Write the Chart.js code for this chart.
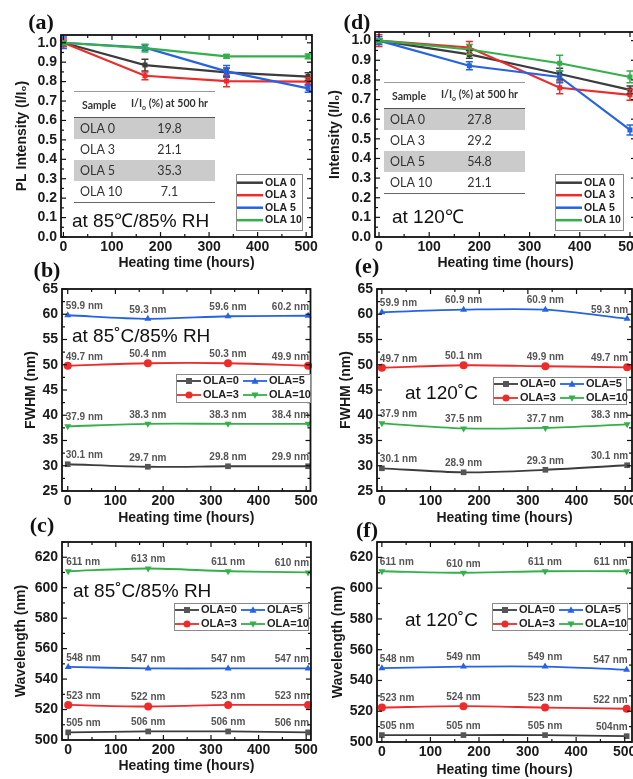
<!DOCTYPE html>
<html>
<head>
<meta charset="utf-8">
<title>OLA stability</title>
<script src="https://cdn.jsdelivr.net/npm/chart.js@4.4.1/dist/chart.umd.min.js"></script>
<style>
  html, body { margin: 0; padding: 0; background: #fff; }
  #page { position: relative; width: 633px; height: 779px; overflow: hidden; background: #fff; }
  canvas { position: absolute; }
  .tag { position: absolute; font: bold 22px "Liberation Serif", serif; color: #111; transform: translate(-50%, -50%); line-height: 1; }
  .note { position: absolute; font: 19px "Liberation Sans", Arial, sans-serif; color: #111; transform: translateY(-50%); line-height: 1; white-space: nowrap; }
  .tbl { position: absolute; width: 141px; font-family: Lato, "Liberation Sans", sans-serif; color: #333; border-top: 1px solid #999; border-bottom: 1.5px solid #666; }
  .tbl .row { display: flex; height: 21px; align-items: center; font-size: 12.5px; }
  .tbl .head { height: 25px; font-size: 10.5px; font-weight: bold; border-bottom: 1.5px solid #555; }
  .tbl .grey { background: #cbcbcb; }
  .tbl .c1 { width: 50px; padding-left: 6px; box-sizing: border-box; }
  .tbl .c2 { width: 91px; text-align: center; }
  .tbl .head .c1 { padding-left: 0; text-align: center; }
</style>
</head>
<body>
<div id="page">
  <canvas id="chartA" width="320" height="275" style="left:0;top:0"></canvas>
  <canvas id="chartD" width="330" height="275" style="left:316px;top:0"></canvas>
  <canvas id="chartB" width="320" height="280" style="left:0;top:255px"></canvas>
  <canvas id="chartE" width="330" height="280" style="left:316px;top:255px"></canvas>
  <canvas id="chartC" width="320" height="274" style="left:0;top:505px"></canvas>
  <canvas id="chartF" width="330" height="274" style="left:316px;top:505px"></canvas>

  <div class="tag" style="left:41px;top:22px">(a)</div>
  <div class="tag" style="left:357px;top:22px">(d)</div>
  <div class="tag" style="left:47px;top:270px">(b)</div>
  <div class="tag" style="left:367px;top:266px">(e)</div>
  <div class="tag" style="left:42px;top:525px">(c)</div>
  <div class="tag" style="left:367px;top:530px">(f)</div>

  <div class="note" style="left:72px;top:220px">at 85℃/85% RH</div>
  <div class="note" style="left:72px;top:335px">at 85˚C/85% RH</div>
  <div class="note" style="left:73px;top:590px">at 85˚C/85% RH</div>
  <div class="note" style="left:392px;top:216px">at 120℃</div>
  <div class="note" style="left:405px;top:392px">at 120˚C</div>
  <div class="note" style="left:405px;top:619px">at 120˚C</div>

  <div class="tbl" id="tableA" style="left:74px;top:91px"></div>
  <div class="tbl" id="tableD" style="left:384px;top:82px"></div>
</div>

<script>
// 时间点 (hours)
const hours = [0, 168, 336, 504];
const hoursHot = [0, 180, 360, 500];
const olaNames = ['OLA 0', 'OLA 3', 'OLA 5', 'OLA 10'];
const olaKeys = ['OLA=0', 'OLA=3', 'OLA=5', 'OLA=10'];
const olaColors = ['#3c3c3c', '#ee2b2b', '#2563e6', '#34b04a'];

// (a) PL intensity at 85°C/85% RH
const plHumid0 = [1.0, 0.885, 0.848, 0.826];
const plHumid3 = [1.0, 0.83, 0.803, 0.80];
const plHumid5 = [1.0, 0.975, 0.853, 0.765];
const plHumid10 = [1.0, 0.972, 0.93, 0.93];
const errHumid0 = [0.01, 0.03, 0.022, 0.02];
const errHumid3 = [0.02, 0.02, 0.03, 0.02];
const errHumid5 = [0.03, 0.015, 0.03, 0.02];
const errHumid10 = [0.01, 0.02, 0.01, 0.012];

// (d) PL intensity at 120°C
const plHot0 = [1.0, 0.93, 0.83, 0.749];
const plHot3 = [1.0, 0.965, 0.76, 0.724];
const plHot5 = [1.0, 0.872, 0.815, 0.545];
const plHot10 = [1.0, 0.955, 0.885, 0.815];
const errHot0 = [0.01, 0.02, 0.03, 0.02];
const errHot3 = [0.03, 0.03, 0.03, 0.027];
const errHot5 = [0.02, 0.02, 0.03, 0.025];
const errHot10 = [0.01, 0.025, 0.04, 0.03];

// 表格
const tableSamples = ['OLA 0', 'OLA 3', 'OLA 5', 'OLA 10'];
const retainHumid = ['19.8', '21.1', '35.3', '7.1'];
const retainHot = ['27.8', '29.2', '54.8', '21.1'];

// (b) FWHM at 85°C/85% RH
const fwHumid0 = [30.3, 29.8, 29.9, 29.9];
const fwHumid3 = [49.8, 50.3, 50.3, 49.8];
const fwHumid5 = [59.8, 59.1, 59.6, 59.7];
const fwHumid10 = [37.8, 38.3, 38.3, 38.3];
const fwHumidTags0 = ['30.1', '29.7', '29.8', '29.9'];
const fwHumidTags3 = ['49.7', '50.4', '50.3', '49.9'];
const fwHumidTags5 = ['59.9', '59.3', '59.6', '60.2'];
const fwHumidTags10 = ['37.9', '38.3', '38.3', '38.4'];

// (e) FWHM at 120°C
const fwHot0 = [29.5, 28.7, 29.2, 30.1];
const fwHot3 = [49.4, 49.9, 49.7, 49.5];
const fwHot5 = [60.4, 60.9, 60.9, 59.1];
const fwHot10 = [38.4, 37.4, 37.5, 38.2];
const fwHotTags0 = ['30.1', '28.9', '29.3', '30.1'];
const fwHotTags3 = ['49.7', '50.1', '49.9', '49.7'];
const fwHotTags5 = ['59.9', '60.9', '60.9', '59.3'];
const fwHotTags10 = ['37.9', '37.5', '37.7', '38.3'];

// (c) Wavelength at 85°C/85% RH
const wlHumid0 = [505, 505.6, 505.6, 505];
const wlHumid3 = [523, 522, 523, 523];
const wlHumid5 = [548, 547, 547, 547];
const wlHumid10 = [610.8, 612.6, 610.8, 610];
const wlHumidTags0 = ['505', '506', '506', '506'];
const wlHumidTags3 = ['523', '522', '523', '523'];
const wlHumidTags5 = ['548', '547', '547', '547'];
const wlHumidTags10 = ['611', '613', '611', '610'];

// (f) Wavelength at 120°C
const wlHot0 = [504.5, 504.5, 504.5, 503.8];
const wlHot3 = [522.4, 523.3, 522.4, 521.6];
const wlHot5 = [548, 549, 549, 547];
const wlHot10 = [611, 610, 611, 611];
const wlHotTags0 = ['505', '505', '505', '504nm'];
const wlHotTags3 = ['523', '524', '523', '522'];
const wlHotTags5 = ['548', '549', '549', '547'];
const wlHotTags10 = ['611', '610', '611', '611'];

const markStyles = ['rect', 'circle', 'triangle', 'triangle'];
const markTurns = [0, 0, 0, 180];

const tickFont = { family: '"Liberation Sans", Arial, sans-serif', size: 14, weight: 'bold' };
const titleFont = { family: '"Liberation Sans", Arial, sans-serif', size: 14, weight: 'bold' };
const inkColor = '#1a1a1a';

// 表格
function fillTable(id, values) {
  const rows = ['<div class="row head"><div class="c1">Sample</div><div class="c2">I/I<sub style="font-size:7px">o</sub> (%) at 500 hr</div></div>'];
  tableSamples.forEach((s, i) => {
    rows.push(`<div class="row ${i % 2 === 0 ? 'grey' : ''}"><div class="c1">${s}</div><div class="c2">${values[i]}</div></div>`);
  });
  document.getElementById(id).innerHTML = rows.join('');
}
fillTable('tableA', retainHumid);
fillTable('tableD', retainHot);

function drawMark(ctx, style, x, y, r, turn) {
  ctx.beginPath();
  if (style === 'rect') {
    ctx.rect(x - r * 0.85, y - r * 0.85, r * 1.7, r * 1.7);
  } else if (style === 'circle') {
    ctx.arc(x, y, r, 0, Math.PI * 2);
  } else {
    const s = turn ? -1 : 1;
    ctx.moveTo(x, y - s * r * 1.05);
    ctx.lineTo(x + r, y + s * r * 0.75);
    ctx.lineTo(x - r, y + s * r * 0.75);
    ctx.closePath();
  }
  ctx.fill();
}

// 误差棒
const errorBars = {
  id: 'errorBars',
  afterDatasetsDraw(chart) {
    const { ctx } = chart;
    const yScale = chart.scales.y;
    chart.data.datasets.forEach((ds, i) => {
      if (!ds.errors) return;
      ctx.save();
      ctx.strokeStyle = ds.borderColor;
      ctx.lineWidth = 1.5;
      chart.getDatasetMeta(i).data.forEach((pt, j) => {
        const v = ds.data[j].y, e = ds.errors[j];
        const y1 = yScale.getPixelForValue(v - e);
        const y2 = yScale.getPixelForValue(v + e);
        ctx.beginPath();
        ctx.moveTo(pt.x, y1); ctx.lineTo(pt.x, y2);
        ctx.moveTo(pt.x - 3.5, y1); ctx.lineTo(pt.x + 3.5, y1);
        ctx.moveTo(pt.x - 3.5, y2); ctx.lineTo(pt.x + 3.5, y2);
        ctx.stroke();
      });
      ctx.restore();
    });
  }
};

// 数据标注 "xx nm"
const pointText = {
  id: 'pointText',
  afterDatasetsDraw(chart) {
    const { ctx } = chart;
    chart.data.datasets.forEach((ds, i) => {
      if (!ds.tags) return;
      const pts = chart.getDatasetMeta(i).data;
      const last = pts.length - 1;
      ctx.save();
      ctx.font = 'bold 10px "Liberation Sans", Arial, sans-serif';
      ctx.fillStyle = '#555';
      ctx.textBaseline = 'middle';
      pts.forEach((p, j) => {
        ctx.textAlign = j === 0 ? 'left' : (j === last ? 'right' : 'center');
        const x = j === 0 ? p.x - 2 : (j === last ? p.x + 1 : p.x);
        ctx.fillText(ds.tags[j], x, p.y - 9);
      });
      ctx.restore();
    });
  }
};

// 边框和刻度（朝内）
const frame = {
  id: 'frame',
  afterDatasetsDraw(chart) {
    const { ctx, chartArea: a, scales: { x, y } } = chart;
    ctx.save();
    ctx.strokeStyle = '#111';
    ctx.lineWidth = 1.8;
    ctx.strokeRect(a.left, a.top, a.right - a.left, a.bottom - a.top);
    ctx.lineWidth = 1.2;
    const line = (x1, y1, x2, y2) => { ctx.beginPath(); ctx.moveTo(x1, y1); ctx.lineTo(x2, y2); ctx.stroke(); };
    const walk = (scale, fn) => {
      const vals = scale.ticks.map(t => t.value);
      const step = vals[1] - vals[0];
      for (let k = -1; k <= vals.length * 2; k++) {
        const v = vals[0] + k * step / 2;
        if (v < scale.min - 1e-9 || v > scale.max + 1e-9) continue;
        fn(scale.getPixelForValue(v), k % 2 === 0 ? 5 : 3);
      }
    };
    walk(x, (p, len) => { line(p, a.bottom, p, a.bottom - len); line(p, a.top, p, a.top + len); });
    walk(y, (p, len) => { line(a.left, p, a.left + len, p); line(a.right, p, a.right - len, p); });
    ctx.restore();
  }
};

// 图例（画在图内）
const boxLegend = {
  id: 'boxLegend',
  afterDraw(chart, args, opts) {
    if (!opts || !opts.box) return;
    const { ctx } = chart;
    const [bx, by, bw, bh] = opts.box;
    ctx.save();
    ctx.fillStyle = '#fff';
    ctx.fillRect(bx, by, bw, bh);
    ctx.strokeStyle = '#8a8a8a';
    ctx.lineWidth = 1;
    ctx.strokeRect(bx + 0.5, by + 0.5, bw, bh);
    ctx.font = `bold ${opts.fontSize}px "Liberation Sans", Arial, sans-serif`;
    ctx.textBaseline = 'middle';
    chart.data.datasets.forEach((ds, i) => {
      const col = Math.floor(i / opts.rows), row = i % opts.rows;
      const x0 = bx + opts.pad + col * opts.colW;
      const y0 = by + opts.first + row * opts.rowH;
      ctx.strokeStyle = ds.borderColor;
      ctx.lineWidth = opts.lineW;
      ctx.beginPath(); ctx.moveTo(x0, y0); ctx.lineTo(x0 + opts.lineLen, y0); ctx.stroke();
      if (opts.markers) {
        ctx.fillStyle = ds.pointBackgroundColor;
        drawMark(ctx, ds.pointStyle, x0 + opts.lineLen / 2, y0, 3.5, ds.pointRotation);
      }
      ctx.fillStyle = '#222';
      ctx.textAlign = 'left';
      ctx.fillText(ds.label, x0 + opts.lineLen + 2, y0);
    });
    ctx.restore();
  }
};

function trendSets(xs, series, errs) {
  return series.map((vals, i) => ({
    label: olaNames[i],
    data: vals.map((v, j) => ({ x: xs[j], y: v })),
    errors: errs[i],
    borderColor: olaColors[i],
    backgroundColor: olaColors[i],
    pointBackgroundColor: olaColors[i],
    borderWidth: 2.2,
    pointStyle: 'rect',
    pointRadius: 2,
    tension: 0,
    order: 4 - i,
    clip: false
  }));
}

function spotSets(series, tags) {
  return series.map((vals, i) => ({
    label: olaKeys[i],
    data: vals.map((v, j) => ({ x: hours[j], y: v })),
    tags: tags[i].map(t => t.endsWith('nm') ? t : t + ' nm'),
    borderColor: olaColors[i],
    backgroundColor: olaColors[i],
    pointBackgroundColor: i === 0 ? '#555' : olaColors[i],
    pointBorderColor: i === 0 ? '#555' : olaColors[i],
    borderWidth: 1.8,
    pointStyle: markStyles[i],
    pointRotation: markTurns[i],
    pointRadius: 4,
    pointBorderWidth: 0,
    tension: 0.3,
    order: 4 - i,
    clip: false
  }));
}

function panel(id, cfg) {
  return new Chart(document.getElementById(id), {
    type: 'line',
    data: { datasets: cfg.sets },
    options: {
      responsive: false,
      animation: false,
      layout: { padding: cfg.pad },
      plugins: {
        legend: { display: false },
        tooltip: { enabled: false },
        boxLegend: cfg.legend
      },
      scales: {
        x: {
          type: 'linear',
          min: cfg.xMin,
          max: cfg.xMax,
          grid: { display: false, drawTicks: false },
          border: { display: false },
          ticks: { stepSize: 100, includeBounds: false, autoSkip: false, maxRotation: 0, padding: cfg.xTickPad, color: inkColor, font: tickFont },
          title: { display: true, text: 'Heating time (hours)', color: inkColor, font: titleFont, padding: { top: 0, bottom: 0 } },
          afterFit: s => { s.height = cfg.xHeight; }
        },
        y: {
          min: cfg.yMin,
          max: cfg.yMax,
          grid: { display: false, drawTicks: false },
          border: { display: false },
          ticks: { stepSize: cfg.yStep, includeBounds: false, padding: 4, color: inkColor, font: tickFont, callback: cfg.yFmt },
          title: { display: true, text: cfg.yTitle, color: inkColor, font: titleFont, padding: { top: cfg.yTitlePad, bottom: 0 } },
          afterFit: s => { s.width = cfg.yWidth; }
        }
      }
    },
    plugins: [errorBars, pointText, frame, boxLegend]
  });
}

const oneDecimal = v => v.toFixed(1);
const whole = v => String(v);
const trendLegend = box => ({ box, rows: 4, colW: 0, pad: 1, first: 8.7, rowH: 12.5, lineLen: 26, lineW: 2.5, fontSize: 10.5, markers: false });
const spotLegend = box => ({ box, rows: 2, colW: 66, pad: 1, first: 7, rowH: 14, lineLen: 24, lineW: 1.8, fontSize: 11, markers: true });

panel('chartA', {
  sets: trendSets(hours, [plHumid0, plHumid3, plHumid5, plHumid10], [errHumid0, errHumid3, errHumid5, errHumid10]),
  pad: { left: 0, top: 35, right: 7, bottom: 3 },
  xMin: -5, xMax: 512, xHeight: 35, xTickPad: 2,
  yMin: 0, yMax: 1.04, yStep: 0.1, yFmt: oneDecimal,
  yTitle: 'PL Intensity (I/I₀)', yTitlePad: 14, yWidth: 61,
  legend: trendLegend([236, 174, 66, 56])
});

panel('chartD', {
  sets: trendSets(hoursHot, [plHot0, plHot3, plHot5, plHot10], [errHot0, errHot3, errHot5, errHot10]),
  pad: { left: 0, top: 32, right: 10, bottom: 3 },
  xMin: -8, xMax: 512, xHeight: 35, xTickPad: 2,
  yMin: 0, yMax: 1.044, yStep: 0.1, yFmt: oneDecimal,
  yTitle: 'Intensity (I/I₀)', yTitlePad: 11, yWidth: 59,
  legend: trendLegend([239, 174, 68, 56])
});

panel('chartB', {
  sets: spotSets([fwHumid0, fwHumid3, fwHumid5, fwHumid10], [fwHumidTags0, fwHumidTags3, fwHumidTags5, fwHumidTags10]),
  pad: { left: 0, top: 34, right: 7, bottom: 8 },
  xMin: -12, xMax: 509, xHeight: 36, xTickPad: 2,
  yMin: 25, yMax: 65, yStep: 5, yFmt: whole,
  yTitle: 'FWHM (nm)', yTitlePad: 23, yWidth: 62,
  legend: spotLegend([176, 119, 134, 28])
});

panel('chartE', {
  sets: spotSets([fwHot0, fwHot3, fwHot5, fwHot10], [fwHotTags0, fwHotTags3, fwHotTags5, fwHotTags10]),
  pad: { left: 0, top: 34, right: 14, bottom: 8 },
  xMin: -10, xMax: 514, xHeight: 36, xTickPad: 2,
  yMin: 25, yMax: 65, yStep: 5, yFmt: whole,
  yTitle: 'FWHM (nm)', yTitlePad: 22, yWidth: 61,
  legend: spotLegend([177, 122, 133, 27])
});

panel('chartC', {
  sets: spotSets([wlHumid0, wlHumid3, wlHumid5, wlHumid10], [wlHumidTags0, wlHumidTags3, wlHumidTags5, wlHumidTags10]),
  pad: { left: 0, top: 37, right: 7, bottom: 4 },
  xMin: -13, xMax: 510, xHeight: 35, xTickPad: 2,
  yMin: 500, yMax: 630, yStep: 20, yFmt: whole,
  yTitle: 'Wavelength (nm)', yTitlePad: 13, yWidth: 62,
  legend: spotLegend([174, 98, 134, 27])
});

panel('chartF', {
  sets: spotSets([wlHot0, wlHot3, wlHot5, wlHot10], [wlHotTags0, wlHotTags3, wlHotTags5, wlHotTags10]),
  pad: { left: 0, top: 37, right: 14, bottom: 0 },
  xMin: -10, xMax: 515, xHeight: 37, xTickPad: 2,
  yMin: 500, yMax: 630, yStep: 20, yFmt: whole,
  yTitle: 'Wavelength (nm)', yTitlePad: 14, yWidth: 61,
  legend: spotLegend([176, 98, 135, 27])
});
</script>
</body>
</html>
